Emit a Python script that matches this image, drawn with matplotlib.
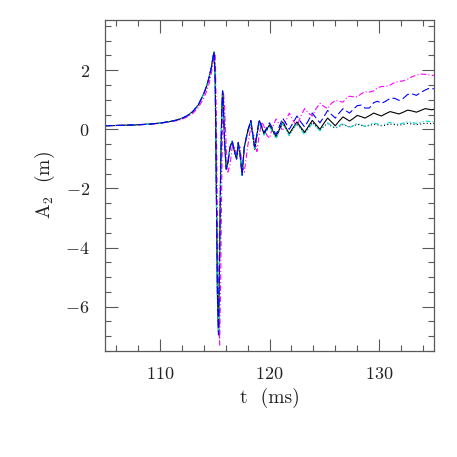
import matplotlib
matplotlib.use("Agg")
import matplotlib.pyplot as plt
from matplotlib.ticker import MultipleLocator

plt.rcParams['font.family'] = ['cmr10', 'DejaVu Serif']
plt.rcParams['mathtext.fontset'] = 'cm'
plt.rcParams['axes.formatter.use_mathtext'] = True

# ---- data ----
t_early = [105, 106, 107, 108, 109, 110, 111, 111.5, 112, 112.5,
           113, 113.5, 114, 114.3, 114.5, 114.7, 114.85, 114.95, 115.05, 115.15,
           115.25, 115.35, 115.45, 115.55, 115.65, 115.72, 115.8, 115.9, 116.05, 116.2,
           116.4, 116.6, 116.8, 117.0, 117.15, 117.3, 117.5, 117.7]

a_early = [0.12, 0.13, 0.14, 0.155, 0.175, 0.21, 0.27, 0.31, 0.37, 0.46,
           0.6, 0.82, 1.2, 1.5, 1.78, 2.1, 2.45, 2.62, 1.6, -2.0,
           -5.6, -6.95, -4.2, -1.2, 0.7, 1.3, 0.7, -0.4, -1.35, -1.15,
           -0.6, -0.4, -0.75, -1.0, -0.45, -0.8, -1.55, -0.6]

a_early_magenta = [0.12, 0.13, 0.14, 0.15, 0.17, 0.2, 0.26, 0.29, 0.34, 0.42,
                   0.54, 0.73, 1.05, 1.32, 1.56, 1.9, 2.25, 2.5, 2.55, 0.5,
                   -3.0, -6.0, -7.3, -5.0, -1.5, 0.2, 1.25, 0.8, -0.6, -1.45,
                   -1.2, -0.6, -0.55, -0.9, -0.8, -0.6, -1.2, -1.45]

t_late = [118.0, 118.3, 118.65, 118.85, 119.05, 119.3, 119.5, 119.75, 120.0, 120.3,
          120.6, 120.9, 121.2, 121.5, 121.8, 122.15, 122.5, 122.85, 123.2, 123.55,
          123.9, 124.25, 124.6, 124.95, 125.3, 125.65, 126.0, 126.35, 126.7, 127.0,
          127.3, 127.65, 128.0, 128.35, 128.7, 129.1, 129.5, 129.85, 130.2, 130.6,
          131.0, 131.4, 131.8, 132.2, 132.6, 133.0, 133.4, 133.8, 134.2, 134.5,
          134.8, 135.0]

late_black = [-0.1, 0.28, -0.68, -0.2, 0.28, 0.05, -0.15, 0.0, 0.15, -0.05,
              -0.25, 0.0, 0.25, 0.05, -0.15, 0.05, 0.25, 0.07, -0.1, 0.1,
              0.3, 0.15, 0.0, 0.2, 0.38, 0.25, 0.12, 0.28, 0.42, 0.35,
              0.28, 0.37, 0.47, 0.43, 0.38, 0.46, 0.55, 0.5, 0.45, 0.53,
              0.6, 0.56, 0.52, 0.58, 0.65, 0.62, 0.58, 0.64, 0.7, 0.68,
              0.66, 0.68]

late_blue = [-0.05, 0.3, -0.6, -0.15, 0.32, 0.1, -0.1, 0.05, 0.22, 0.02,
             -0.18, 0.1, 0.38, 0.2, 0.0, 0.22, 0.45, 0.25, 0.08, 0.3,
             0.55, 0.38, 0.22, 0.42, 0.64, 0.5, 0.38, 0.55, 0.7, 0.62,
             0.55, 0.68, 0.8, 0.82, 0.72, 0.72, 0.9, 0.95, 0.88, 0.95,
             1.05, 1.05, 0.98, 1.05, 1.18, 1.2, 1.15, 1.25, 1.33, 1.38,
             1.36, 1.38]

late_magenta = [-0.6, 0.1, -0.3, -0.75, -0.2, 0.25, 0.1, -0.2, -0.3, 0.1,
                0.35, 0.15, -0.05, 0.3, 0.55, 0.3, 0.1, 0.45, 0.7, 0.55,
                0.45, 0.7, 0.88, 0.78, 0.7, 0.88, 0.98, 0.95, 0.92, 1.05,
                1.12, 1.1, 1.1, 1.2, 1.27, 1.26, 1.3, 1.4, 1.45, 1.45,
                1.5, 1.58, 1.62, 1.64, 1.7, 1.78, 1.83, 1.87, 1.86, 1.84,
                1.82, 1.83]

late_cyan = [-0.15, 0.22, -0.65, -0.25, 0.22, 0.0, -0.2, -0.05, 0.1, -0.1,
             -0.32, -0.05, 0.2, 0.0, -0.22, 0.0, 0.2, 0.0, -0.18, 0.02,
             0.2, 0.08, -0.05, 0.1, 0.22, 0.12, 0.05, 0.12, 0.2, 0.12,
             0.06, 0.12, 0.2, 0.15, 0.1, 0.15, 0.22, 0.18, 0.14, 0.18,
             0.24, 0.2, 0.17, 0.21, 0.26, 0.23, 0.2, 0.24, 0.28, 0.27,
             0.25, 0.26]

late_dotted = [-0.1, 0.26, -0.7, -0.2, 0.25, 0.02, -0.18, -0.02, 0.12, -0.08,
               -0.28, -0.02, 0.22, 0.02, -0.18, 0.02, 0.22, 0.03, -0.14, 0.05,
               0.24, 0.1, -0.02, 0.1, 0.2, 0.1, 0.04, 0.1, 0.16, 0.12,
               0.08, 0.12, 0.17, 0.14, 0.1, 0.13, 0.17, 0.15, 0.12, 0.14,
               0.18, 0.16, 0.14, 0.17, 0.2, 0.18, 0.16, 0.18, 0.21, 0.2,
               0.19, 0.2]

t_all = t_early + t_late

fig = plt.figure(figsize=(4.57, 4.57), dpi=100)
ax = fig.add_axes([0.2298, 0.232, 0.7199, 0.7243])

ax.plot(t_all, a_early_magenta + late_magenta, color='#ff00ff', lw=0.8,
        linestyle=(0, (5, 2, 1, 2)))
ax.plot(t_all, a_early + late_dotted, color='black', lw=0.8,
        linestyle=(0, (1, 2)))
ax.plot(t_all, a_early + late_black, color='black', lw=0.8, linestyle='-')
ax.plot(t_all, a_early + late_cyan, color='#00d8d8', lw=0.8,
        linestyle=(0, (4, 2, 1, 2, 1, 2)))
ax.plot(t_all, a_early + late_blue, color='#0000ff', lw=0.8,
        linestyle=(0, (7, 3)))

ax.set_xlim(105, 135)
ax.set_ylim(-7.5, 3.7)
ax.xaxis.set_major_locator(MultipleLocator(10))
ax.xaxis.set_minor_locator(MultipleLocator(2))
ax.yaxis.set_major_locator(MultipleLocator(2))
ax.yaxis.set_minor_locator(MultipleLocator(0.5))

gray = '0.35'
for s in ax.spines.values():
    s.set_color(gray)
    s.set_linewidth(0.9)
ax.tick_params(which='both', direction='in', top=True, right=True,
               color=gray, width=0.8, labelsize=13, labelcolor='#222222')
ax.tick_params(which='major', length=9, pad=11)
ax.tick_params(which='minor', length=4.5)

ax.set_xlabel('t  (ms)', fontsize=14, color='#222222', labelpad=4)
ax.set_ylabel(r'A$_2$  (m)', fontsize=14, color='#222222', labelpad=6)

fig.savefig('out.png', dpi=100)
